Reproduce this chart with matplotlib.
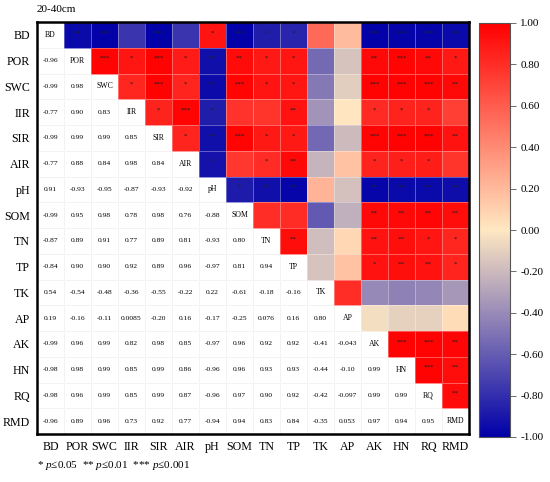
import numpy as np
import matplotlib
matplotlib.use("Agg")
import matplotlib.pyplot as plt
from matplotlib.colors import LinearSegmentedColormap

plt.rcParams['font.family'] = ['Liberation Serif', 'DejaVu Serif']
plt.rcParams['mathtext.fontset'] = 'custom'
plt.rcParams['mathtext.it'] = 'Liberation Serif:italic'
plt.rcParams['mathtext.rm'] = 'Liberation Serif'

labels = ["BD", "POR", "SWC", "IIR", "SIR", "AIR", "pH", "SOM", "TN", "TP",
          "TK", "AP", "AK", "HN", "RQ", "RMD"]

# lower-triangle correlation values (row i, columns 0..i-1)
lower = [
    [],
    [-0.96],
    [-0.99, 0.98],
    [-0.77, 0.90, 0.83],
    [-0.99, 0.99, 0.99, 0.85],
    [-0.77, 0.88, 0.84, 0.98, 0.84],
    [0.91, -0.93, -0.95, -0.87, -0.93, -0.92],
    [-0.99, 0.95, 0.98, 0.78, 0.98, 0.76, -0.88],
    [-0.87, 0.89, 0.91, 0.77, 0.89, 0.81, -0.93, 0.80],
    [-0.84, 0.90, 0.90, 0.92, 0.89, 0.96, -0.97, 0.81, 0.94],
    [0.54, -0.54, -0.48, -0.36, -0.55, -0.22, 0.22, -0.61, -0.18, -0.16],
    [0.19, -0.16, -0.11, 0.0085, -0.20, 0.16, -0.17, -0.25, 0.076, 0.16, 0.80],
    [-0.99, 0.96, 0.99, 0.82, 0.98, 0.85, -0.97, 0.96, 0.92, 0.92, -0.41, -0.043],
    [-0.98, 0.98, 0.99, 0.85, 0.99, 0.86, -0.96, 0.96, 0.93, 0.93, -0.44, -0.10, 0.99],
    [-0.98, 0.96, 0.99, 0.85, 0.99, 0.87, -0.96, 0.97, 0.90, 0.92, -0.42, -0.097, 0.99, 0.99],
    [-0.96, 0.89, 0.96, 0.73, 0.92, 0.77, -0.94, 0.94, 0.83, 0.84, -0.35, 0.053, 0.97, 0.94, 0.95],
]

# significance stars in the upper triangle (row i, columns i+1..15), '-' = none
stars = [
    "** *** - *** - * *** * * - - *** *** *** **",
    "*** * *** * ** ** * * - - ** *** ** *",
    "* *** * ** *** * * - - *** *** *** **",
    "* *** * - - ** - - * * * -",
    "* ** *** * * - - *** *** *** **",
    "* - * ** - - * * * -",
    "* ** ** - - ** ** ** **",
    "- - - - ** ** ** **",
    "** - - ** ** * *",
    "- - * ** ** *",
    "- - - - -",
    "- - - -",
    "*** *** **",
    "*** **",
    "**",
    "",
]

cbar_ticks = [-1.0, -0.8, -0.6, -0.4, -0.2, 0.0, 0.2, 0.4, 0.6, 0.8, 1.0]

n = len(labels)
M = np.eye(n)
for i, row in enumerate(lower):
    for j, v in enumerate(row):
        M[i, j] = v
        M[j, i] = v

cmap = LinearSegmentedColormap.from_list(
    "bcr", [(0.0, "#0000A8"), (0.5, "#FFE8C2"), (1.0, "#FF0000")])

fig = plt.figure(figsize=(5.5, 4.82), dpi=100)
ax = fig.add_axes([37/550, 1-434/482, 432/550, 412/482])

upper = np.ma.masked_where(np.tril(np.ones((n, n), bool)), M)
ax.pcolormesh(np.arange(n+1), np.arange(n+1), np.zeros((n, n)),
              cmap=LinearSegmentedColormap.from_list("w", ["white", "white"]),
              edgecolors="#e6e6e6", linewidth=0.5)
mesh = ax.pcolormesh(np.arange(n+1), np.arange(n+1), upper, cmap=cmap,
                     vmin=-1, vmax=1, edgecolors="#ffffff55", linewidth=0.4)
ax.set_xlim(0, n)
ax.set_ylim(n, 0)

def fmt(v):
    if abs(v) >= 0.1 - 1e-9:
        return f"{v:.2f}"
    return f"{v:.2g}"

for i in range(n):
    ax.text(i + 0.5, i + 0.5, labels[i], ha="center", va="center", fontsize=5.6)
    for j, v in enumerate(lower[i]):
        ax.text(j + 0.5, i + 0.5, fmt(v), ha="center", va="center", fontsize=5.4)
    toks = stars[i].split()
    for k, s in enumerate(toks):
        j = i + 1 + k
        if s != "-":
            ax.text(j + 0.5, i + 0.42, s, ha="center", va="center", fontsize=5,
                    color="#202020")

ax.set_xticks(np.arange(n) + 0.5)
ax.set_yticks(np.arange(n) + 0.5)
ax.set_xticklabels(labels, fontsize=8.6)
ax.set_yticklabels(labels, fontsize=8.6)
ax.tick_params(length=0, pad=5)
for sp in ax.spines.values():
    sp.set_linewidth(1.8)

fig.text(37/550, 1-9/482, "20-40cm", fontsize=8, va="center", ha="left")
fig.text(37/550, 1-466/482,
         r"* $p$≤0.05  ** $p$≤0.01  *** $p$≤0.001",
         fontsize=8, va="center", ha="left")

cax = fig.add_axes([479/550, 1-437/482, 31/550, 414/482])
cb = fig.colorbar(mesh, cax=cax, ticks=cbar_ticks)
cb.ax.set_yticklabels([f"{t:.2f}".replace("-0.00", "0.00") for t in cbar_ticks],
                      fontsize=8)
cb.outline.set_edgecolor("#555555")
cb.outline.set_linewidth(0.8)
cb.ax.tick_params(length=4, width=0.6, color="#555555")

fig.savefig("out.png", dpi=100)
